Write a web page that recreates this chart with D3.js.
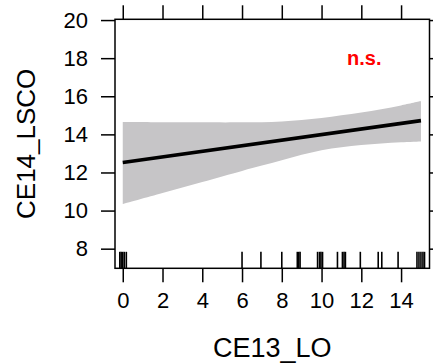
<!DOCTYPE html>
<html>
<head>
<meta charset="utf-8">
<script src="https://cdn.jsdelivr.net/npm/d3@7"></script>
<style>
  body { margin: 0; background: #fff; }
  text { font-family: "Liberation Sans", Arial, sans-serif; }
</style>
</head>
<body>
<script>
// values
var xTicks = [0, 2, 4, 6, 8, 10, 12, 14];
var yTicks = [8, 10, 12, 14, 16, 18, 20];

var bandX     = [0, 2, 4, 6, 7, 8, 9, 10, 11, 12, 13, 14, 15];
var bandUpper = [14.65, 14.64, 14.63, 14.63, 14.64, 14.68, 14.76, 14.86, 15.0, 15.15, 15.32, 15.52, 15.75];
var bandLower = [10.34, 10.92, 11.5, 12.08, 12.36, 12.64, 12.93, 13.17, 13.33, 13.44, 13.52, 13.58, 13.62];

var fitX = [0, 15];
var fitY = [12.52, 14.72];

var rugX = [-0.15, -0.08, 0, 0.08, 0.18,
            6, 6.95, 8, 8.78, 8.85, 8.92,
            9.8, 9.9, 9.97, 10.05, 10.8, 11.05, 11.13, 11.2,
            11.95, 12.85, 13.03, 13.85,
            14.8, 14.9, 15.0, 15.1, 15.18];

function draw() {
  var W = 433, H = 364;
  var pL = 115, pR = 429.5, pT = 19.3, pB = 268.3;

  var svg = d3.select("body").append("svg")
    .attr("width", W)
    .attr("height", H);

  var x = d3.scaleLinear().domain([-0.39, 15.43]).range([pL, pR]);
  var y = d3.scaleLinear().domain([6.97, 20.04]).range([pB, pT]);

  // confidence band
  var band = bandX.map(function(d, i) { return {x: d, lo: bandLower[i], hi: bandUpper[i]}; });
  svg.append("path")
    .datum(band)
    .attr("fill", "#c6c5c7")
    .attr("d", d3.area()
      .x(function(d) { return x(d.x); })
      .y0(function(d) { return y(d.lo); })
      .y1(function(d) { return y(d.hi); })
      .curve(d3.curveCatmullRom));

  // fitted line
  svg.append("path")
    .datum(fitX.map(function(d, i) { return [d, fitY[i]]; }))
    .attr("fill", "none")
    .attr("stroke", "#000")
    .attr("stroke-width", 3.6)
    .attr("d", d3.line()
      .x(function(d) { return x(d[0]); })
      .y(function(d) { return y(d[1]); }));

  // rug
  svg.append("g").selectAll("line")
    .data(rugX)
    .enter().append("line")
    .attr("x1", function(d) { return x(d); })
    .attr("x2", function(d) { return x(d); })
    .attr("y1", pB - 16.5)
    .attr("y2", pB)
    .attr("stroke", "#000")
    .attr("stroke-width", 1.6);

  // axes
  function styleAxis(g) {
    g.attr("font-size", 22).attr("font-family", "'Liberation Sans', Arial, sans-serif");
    g.select(".domain").remove();
    g.selectAll(".tick line").attr("stroke", "#000").attr("stroke-width", 1.5);
    g.selectAll(".tick text").attr("fill", "#000");
  }

  svg.append("g")
    .attr("transform", "translate(" + pL + ",0)")
    .call(d3.axisLeft(y).tickValues(yTicks).tickSize(14).tickPadding(13))
    .call(styleAxis);

  svg.append("g")
    .attr("transform", "translate(" + pR + ",0)")
    .call(d3.axisRight(y).tickValues(yTicks).tickSize(14).tickFormat(""))
    .call(styleAxis);

  svg.append("g")
    .attr("transform", "translate(0," + pB + ")")
    .call(d3.axisBottom(x).tickValues(xTicks).tickSize(14).tickPadding(10))
    .call(styleAxis);

  svg.append("g")
    .attr("transform", "translate(0," + pT + ")")
    .call(d3.axisTop(x).tickValues(xTicks).tickSize(14).tickFormat(""))
    .call(styleAxis);

  // panel border
  svg.append("rect")
    .attr("x", pL)
    .attr("y", pT)
    .attr("width", pR - pL)
    .attr("height", pB - pT)
    .attr("fill", "none")
    .attr("stroke", "#000")
    .attr("stroke-width", 1.5);

  // labels
  svg.append("text")
    .attr("x", (pL + pR) / 2)
    .attr("y", 357)
    .attr("text-anchor", "middle")
    .style("font-size", "27px")
    .text("CE13_LO");

  svg.append("text")
    .attr("transform", "translate(35," + ((pT + pB) / 2) + ") rotate(-90)")
    .attr("text-anchor", "middle")
    .style("font-size", "26px")
    .text("CE14_LSCO");

  svg.append("text")
    .attr("x", 347)
    .attr("y", 65)
    .attr("fill", "#ff0000")
    .style("font-size", "20px")
    .style("font-weight", "bold")
    .text("n.s.");
}

draw();
</script>
</body>
</html>
